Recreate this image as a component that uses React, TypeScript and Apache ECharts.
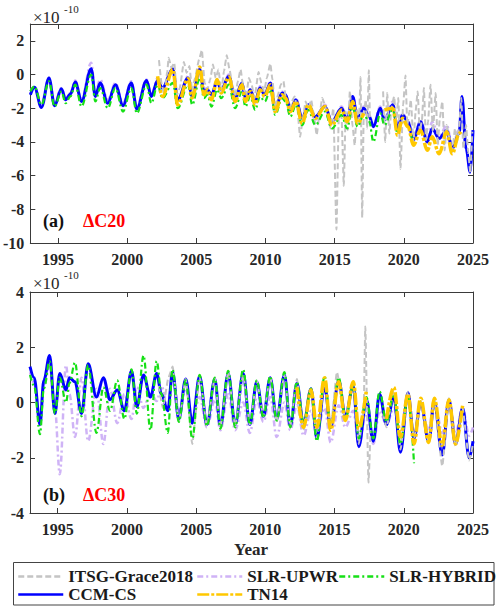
import { useEffect, useRef } from "react";
import * as echarts from "echarts";

const SERIF = "Liberation Serif";

// Axis ticks
const xTicks = [1995, 2000, 2005, 2010, 2015, 2020, 2025];
const yTicksA = [-10, -8, -6, -4, -2, 0, 2];
const yTicksB = [-4, -2, 0, 2, 4];

// ---------- Panel (a): ΔC20, units of 1e-10 ----------
const yearsA = [
  1993.0, 1993.3, 1993.8, 1994.35, 1994.75, 1995.25, 1995.55, 1995.9, 1996.25, 1996.7,
  1997.4, 1997.7, 1998.05, 1998.6, 1999.15, 1999.7, 2000.3, 2000.7, 2001.4, 2001.75,
  2002.2, 2002.55, 2003.3, 2003.65, 2004.4, 2004.7, 2005.25, 2005.55, 2005.8, 2006.1,
  2006.5, 2006.8, 2007.35, 2007.8, 2008.3, 2008.55, 2008.9, 2009.25, 2009.6, 2009.95,
  2010.35, 2010.7, 2011.2, 2011.45, 2011.8, 2012.2, 2012.65, 2013.1, 2013.6, 2014.3,
  2014.8, 2015.5, 2015.9, 2016.3, 2016.65, 2017.1, 2017.5, 2017.8, 2018.3, 2018.6,
  2019.2, 2019.55, 2019.9, 2020.3, 2020.7, 2021.2, 2021.7, 2022.05, 2022.55, 2023.1,
  2023.5, 2024.0, 2024.2, 2024.5, 2024.8, 2025.0,
];
const ccmA = [
  -1.2, -0.75, -1.95, -0.2, -1.85, -0.85, -1.5, -1.15, -0.45, -1.6,
  0.35, -1.3, -0.5, -1.7, -0.6, -1.85, -0.5, -2.05, -0.35, -1.3,
  -0.35, -0.8, 0.35, -1.5, -0.2, -1.3, 0.3, -1.0, -0.9, -1.2,
  -0.4, -0.9, -0.1, -1.4, -0.5, -1.4, -0.9, -1.6, -0.8, -1.2,
  -0.5, -2.0, -1.1, -1.2, -2.1, -1.5, -2.6, -1.8, -2.5, -1.9,
  -2.8, -2.0, -2.7, -1.3, -2.6, -2.0, -2.5, -3.1, -2.0, -2.7,
  -1.8, -3.2, -2.4, -2.8, -3.9, -2.8, -4.0, -3.2, -3.8, -3.3,
  -4.4, -3.5, -1.3, -4.4, -5.8, -3.3,
];
const upwrA = [
  -1.0, -0.7, -1.7, -0.2, -1.7, -0.8, -1.4, -1.1, -0.35, -1.5,
  0.7, -1.1, -0.3, -1.5, -0.5, -1.7, -0.4, -1.9, -0.3, -1.2,
  -0.2, -0.9, 0.2, -1.6, -0.1, -1.3, 0.4, -0.9, -0.8, -1.2,
  -0.3, -1.0, 0.0, -1.7, -0.5, -1.5, -0.9, -1.7, -0.7, -1.1,
  -0.4, -2.2, -1.0, -1.2, -2.0, -1.4, -2.6, -1.7, -2.7, -1.8,
  -2.9, -1.9, -2.7, -1.3, -2.5, -1.9, -2.4, -3.0, -1.9, -2.7,
  -1.6, -3.2, -2.3, -2.7, -3.9, -2.7, -3.8, -2.8, -3.7, -3.0,
  -4.2, -3.3, -1.5, -4.3, -5.5, -3.3,
];
const hybridA = [
  -1.0, -0.7, -1.8, -0.4, -1.9, -1.0, -1.7, -1.3, -0.6, -1.9,
  0.0, -1.6, -0.8, -2.0, -0.8, -2.2, -0.8, -2.3, -0.6, -1.7,
  -0.6, -1.4, -0.5, -2.0, -0.6, -1.8, -0.2, -1.4, -1.2, -1.9,
  -0.9, -1.4, -0.6, -2.0, -1.0, -1.9, -1.3, -2.1, -1.3, -1.6,
  -0.9, -2.4, -1.4, -1.6, -2.5, -1.8, -3.0, -2.1, -3.0, -2.2,
  -3.2, -2.4, -3.2, -1.9, -3.1, -2.4, -2.8, -4.0, -2.3, -3.0,
  -2.1, -3.5, -2.6, -3.1, -4.3, null, null, null, null, null,
  null, null, null, null, null, null,
];
const tn14A = [
  null, null, null, null, null, null, null, null, null, null,
  null, null, null, null, null, null, null, null, null, null,
  -0.1, -1.3, 0.3, -1.8, -0.25, -1.4, 0.45, -1.2, -0.9, -1.5,
  -0.3, -1.1, -0.15, -1.6, -0.6, -1.6, -1.0, -1.8, -0.9, -1.3,
  -0.6, -2.2, -1.2, -1.4, -2.2, -1.6, -2.9, -1.8, -2.6, -1.9,
  -3.0, -2.1, -2.8, -1.6, -2.9, -2.3, null, null, null, -2.1,
  -2.0, -3.6, -2.6, -3.1, -4.2, -3.3, -4.5, -3.7, -4.7, -3.4,
  -4.7, -3.5, -3.3, null, null, null,
];
const itsgA: [number, number | null][] = [
  [2002.3, 0.85], [2002.5, -0.6], [2002.7, -1.2], [2002.9, 0.2], [2003.0, 1.0], [2003.2, 0.4], [2003.4, 0.7], [2003.6, -1.2], [2003.8, -0.8], [2004.1, 0.75],
  [2004.3, 0.1], [2004.5, 0.5], [2004.7, -1.0], [2004.9, -0.2], [2005.2, 0.9], [2005.4, 1.45], [2005.6, -0.5], [2005.8, -0.9], [2006.0, -0.3], [2006.2, 0.6],
  [2006.4, -0.2], [2006.6, 0.3], [2006.8, -1.0], [2007.0, 0.2], [2007.2, 1.15], [2007.4, 0.3], [2007.6, -0.6], [2007.8, -1.3], [2008.0, -0.4], [2008.2, 0.3],
  [2008.4, -0.8], [2008.6, -1.3], [2008.8, -0.2], [2009.0, -0.6], [2009.2, -1.4], [2009.5, 0.15], [2009.7, -0.5], [2009.9, -1.0], [2010.1, -0.2], [2010.35, 0.65],
  [2010.5, -0.3], [2010.7, -2.0], [2010.9, -1.2], [2011.1, -0.6], [2011.3, -0.4], [2011.5, -1.6], [2011.7, -2.3], [2011.9, -1.6], [2012.1, -1.3], [2012.3, -2.0],
  [2012.5, -3.7], [2012.7, -2.6], [2012.9, -1.6], [2013.1, -2.0], [2013.3, -1.5], [2013.5, -2.4], [2013.7, -3.6], [2013.9, -2.4], [2014.1, -1.4], [2014.3, -1.8],
  [2014.5, -2.6], [2014.7, -3.2], [2014.9, -2.0], [2015.13, -9.2], [2015.3, -2.4], [2015.5, -2.5], [2015.66, -6.6], [2015.8, -2.2], [2015.95, -3.3], [2016.1, -1.0],
  [2016.3, -3.1], [2016.45, -4.2], [2016.6, -2.0], [2016.75, -3.0], [2016.87, -0.15], [2016.99, -8.5], [2017.1, -2.4], [2017.25, -1.5], [2017.35, -3.2], [2017.47, 0.25],
  [2017.55, -2.8], [2018.0, null],
  [2018.5, -1.0], [2018.65, -4.0], [2018.8, -1.1], [2018.95, -3.5], [2019.1, -2.0], [2019.3, -1.3], [2019.45, -2.8], [2019.6, -1.4], [2019.76, -5.6], [2019.95, -1.8],
  [2020.12, -0.05], [2020.25, -3.0], [2020.4, -2.2], [2020.5, -1.5], [2020.7, -4.0], [2020.85, -2.2], [2021.0, -1.0], [2021.15, -3.4], [2021.3, -2.8], [2021.45, -0.8],
  [2021.6, -3.9], [2021.75, -2.8], [2021.93, -0.6], [2022.1, -3.4], [2022.3, -1.1], [2022.45, -4.2], [2022.6, -2.6], [2022.78, -1.6], [2022.95, -4.5], [2023.1, -3.0],
  [2023.3, -3.8], [2023.5, -4.6], [2023.7, -3.2], [2023.85, -4.0], [2024.0, -3.1], [2024.15, -1.4], [2024.3, -4.4], [2024.5, -3.0], [2024.65, -4.6], [2024.8, -5.8],
  [2024.95, -3.4],
];

// ---------- Panel (b): ΔC30, units of 1e-10 ----------
const yearsB = [
  1993.0, 1993.3, 1993.72, 1994.0, 1994.42, 1994.8, 1995.15, 1995.6, 1995.85, 1996.25,
  1996.72, 1997.2, 1997.8, 1998.3, 1998.78, 1999.3, 1999.82, 2000.33, 2000.72, 2001.2,
  2001.7, 2002.15, 2002.5, 2002.95, 2003.3, 2003.75, 2004.25, 2004.72, 2005.25, 2005.78,
  2006.35, 2006.75, 2007.32, 2007.82, 2008.4, 2008.88, 2009.38, 2009.86, 2010.35, 2010.82,
  2011.38, 2011.8, 2012.28, 2012.76, 2013.3, 2013.72, 2014.28, 2014.72, 2015.3, 2015.78,
  2016.35, 2016.75, 2017.3, 2017.8, 2018.25, 2018.75, 2019.28, 2019.76, 2020.3, 2020.74,
  2021.22, 2021.8, 2022.2, 2022.78, 2023.26, 2023.74, 2024.25, 2024.72, 2025.0,
];
const ccmB = [
  1.3, 0.9, -0.8, 0.8, 1.7, -0.4, 1.05, 0.45, 0.9, 0.75,
  -0.4, 1.4, 0.2, 0.9, 0.1, 0.45, -0.3, 1.15, -0.15, 1.0,
  0.2, 1.05, 0.3, -0.3, 1.1, -0.6, 0.85, -0.75, 0.95, -0.8,
  0.85, -0.85, 1.05, -0.8, 1.05, -0.8, 0.75, -0.5, 0.9, -0.6,
  1.0, -0.85, 0.7, -0.8, 0.5, -1.3, 0.6, -0.9, 0.8, -0.5,
  0.6, -1.6, 0.1, -1.4, 0.3, -0.8, 0.2, -1.8, 0.35, -1.3,
  0.0, -1.4, 0.0, -1.9, 0.1, -1.5, -0.2, -2.0, -1.4,
];
const upwrB = [
  1.1, 0.7, -0.6, 0.6, 1.3, -0.2, -2.6, 1.35, 0.3, -1.25,
  0.9, -1.4, 0.5, -1.5, 0.5, -0.75, 0.3, -0.6, 0.55, -0.2,
  0.4, 0.05, 0.6, -0.2, 1.0, -0.3, 0.5, -0.7, 0.2, -0.9,
  0.1, -1.0, 0.3, -1.0, 0.0, -1.1, 0.1, -0.7, 0.2, -1.25,
  0.0, -1.0, -0.1, -1.2, -0.3, -1.0, -0.2, -1.45, -0.1, -0.9,
  -0.3, -1.5, -0.4, -1.5, -0.3, -0.8, -0.2, -1.1, 0.2, -1.2,
  -0.1, -1.0, 0.1, -1.1, 0.05, -1.1, -0.2, -1.2, -0.9,
];
const hybridB = [
  1.0, 0.6, -1.15, 0.5, 1.5, -0.4, 0.9, 0.0, 0.7, 1.45,
  -0.5, 1.35, -1.1, 0.55, -0.3, 0.8, -0.6, 1.2, -0.4, 1.7,
  -1.0, 1.5, 0.3, -1.1, 1.2, -0.7, 0.8, -1.3, 1.0, -0.85,
  0.9, -0.95, 1.15, -0.9, 1.2, -0.8, 0.8, -0.55, 0.95, -0.65,
  1.1, -0.9, 0.75, -0.75, 0.5, -1.4, 0.95, -0.9, 0.9, -0.6,
  0.6, -1.3, 0.2, -1.3, 0.4, -0.7, 0.3, -1.5, 0.2, -2.2,
  null, null, null, null, null, null, null, null, null,
];
const tn14B = [
  null, null, null, null, null, null, null, null, null, null,
  null, null, null, null, null, null, null, null, null, null,
  null, null, null, null, null, null, null, null, null, null,
  null, null, null, null, null, null, null, null, null, null,
  null, null, 0.55, -0.9, 0.45, -0.9, 0.9, -1.0, 0.75, -0.65,
  0.75, -0.95, 0.45, null, null, -0.6, 0.55, -1.25, 0.3, -1.5,
  0.15, -1.45, 0.15, -1.55, 0.1, -1.5, -0.1, null, null,
];
const itsgB: [number, number | null][] = [
  [2002.3, 0.6], [2002.6, -0.2], [2003.0, 0.9], [2003.3, 1.3], [2003.75, -0.7], [2004.25, 0.85], [2004.72, -1.5], [2005.25, 0.95], [2005.78, -0.85], [2006.35, 0.9],
  [2006.75, -0.9], [2007.32, 1.1], [2007.82, -0.85], [2008.4, 1.0], [2008.88, -0.8], [2009.38, 0.8], [2009.86, -0.5], [2010.35, 0.95], [2010.82, -0.7], [2011.38, 1.0],
  [2011.8, -0.85], [2012.28, 0.85], [2012.76, -1.0], [2013.3, 0.5], [2013.72, -1.3], [2014.28, 0.75], [2014.72, -0.9], [2015.17, 1.1], [2015.78, -0.6], [2016.35, 0.7],
  [2016.75, -1.5], [2017.1, -0.3], [2017.22, 2.75], [2017.45, -2.9], [2017.6, -1.0], [2018.0, null],
  [2018.5, -0.4], [2018.75, -0.9], [2019.28, 0.4], [2019.76, -1.7], [2020.3, 0.4], [2020.74, -1.3], [2021.22, 0.05], [2021.8, -1.4], [2022.2, 0.1], [2022.78, -2.3],
  [2023.26, 0.15], [2023.74, -1.6], [2024.25, -0.2], [2024.72, -2.1], [2025.0, -1.5],
];

// Line appearance per product
const LINE: Record<string, { color: string; width: number; type: any; smooth: number }> = {
  "ITSG-Grace2018": { color: "#c4c4c4", width: 2, type: [6, 3], smooth: 0.15 },
  "SLR-UPWR": { color: "#cfb3f6", width: 2.5, type: [6, 3, 2, 3], smooth: 0.35 },
  "SLR-HYBRID": { color: "#16e016", width: 2.2, type: [6, 3, 2, 3], smooth: 0.35 },
  "CCM-CS": { color: "#0000ff", width: 3, type: "solid", smooth: 0.35 },
  TN14: { color: "#ffc800", width: 3.5, type: [12, 2, 3, 2], smooth: 0.35 },
};

const toPairs = (years: number[], values: (number | null)[]) =>
  years.map((t, i) => [t, values[i] == null ? "-" : values[i]]);
const fixPairs = (pts: [number, number | null][]) => pts.map(([t, v]) => [t, v == null ? "-" : v]);

function lineSeries(name: string, data: any[], axis: number) {
  const s = LINE[name];
  return {
    type: "line",
    name,
    data,
    xAxisIndex: axis,
    yAxisIndex: axis,
    symbol: "none",
    showSymbol: false,
    smooth: s.smooth,
    smoothMonotone: "x",
    connectNulls: false,
    lineStyle: { color: s.color, width: s.width, type: s.type },
    itemStyle: { color: s.color },
    emphasis: { disabled: true },
  };
}

const axisColor = "#3a3a3a";
// Rich-text style used for tick labels and legend entries
const tickRich = { t: { fontFamily: SERIF, fontWeight: "bold", fontSize: 16, color: "#262626" } };
const legendRich = { t: { fontFamily: SERIF, fontWeight: "bold", fontSize: 17, color: "#1a1a1a" } };

function xAxisDef(grid: number, position: "top" | "bottom", labels: boolean) {
  return {
    type: "value",
    gridIndex: grid,
    position,
    min: 1993,
    max: 2025,
    axisLine: { show: true, onZero: false, lineStyle: { color: axisColor, width: 1 } },
    axisTick: { show: true, inside: true, length: 5, customValues: xTicks, lineStyle: { color: axisColor } },
    axisLabel: {
      show: labels,
      customValues: xTicks,
      margin: 8,
      fontFamily: SERIF,
      fontWeight: "bold",
      fontSize: 16,
      color: "#262626",
      rich: tickRich,
      formatter: (v: number) => `{t|${v}}`,
    },
    splitLine: { show: false },
  };
}

function yAxisDef(grid: number, position: "left" | "right", labels: boolean, min: number, max: number, ticks: number[]) {
  return {
    type: "value",
    gridIndex: grid,
    position,
    min,
    max,
    axisLine: { show: true, onZero: false, lineStyle: { color: axisColor, width: 1 } },
    axisTick: { show: true, inside: true, length: 5, customValues: ticks, lineStyle: { color: axisColor } },
    axisLabel: {
      show: labels,
      customValues: ticks,
      margin: 6,
      fontFamily: SERIF,
      fontWeight: "bold",
      fontSize: 16,
      color: "#262626",
      rich: tickRich,
      formatter: (v: number) => `{t|${v}}`,
    },
    splitLine: { show: false },
  };
}

const legendCommon = {
  orient: "horizontal",
  itemWidth: 45,
  itemHeight: 12,
  padding: 0,
  selectedMode: false,
  itemStyle: { opacity: 0, borderWidth: 0 },
  lineStyle: { width: 2.5 },
  formatter: (name: string) => `{t|${name}}`,
  textStyle: { fontFamily: SERIF, fontWeight: "bold", fontSize: 17, color: "#1a1a1a", rich: legendRich },
};

function textEl(text: string, x: number, y: number, size: number, color: string, weight = "bold") {
  return {
    type: "text",
    x,
    y,
    z: 100,
    style: {
      text,
      fill: color,
      fontFamily: SERIF,
      fontWeight: weight,
      fontSize: size,
      align: "left",
      verticalAlign: "middle",
    },
  };
}

export default function App() {
  const ref = useRef<HTMLDivElement>(null);

  useEffect(() => {
    if (!ref.current) return;
    const chart = echarts.init(ref.current, undefined, { renderer: "svg" });

    const series = [
      lineSeries("SLR-UPWR", toPairs(yearsA, upwrA), 0),
      lineSeries("CCM-CS", toPairs(yearsA, ccmA), 0),
      lineSeries("ITSG-Grace2018", fixPairs(itsgA), 0),
      lineSeries("SLR-HYBRID", toPairs(yearsA, hybridA), 0),
      lineSeries("TN14", toPairs(yearsA, tn14A), 0),
      lineSeries("SLR-UPWR", toPairs(yearsB, upwrB), 2),
      lineSeries("CCM-CS", toPairs(yearsB, ccmB), 2),
      lineSeries("ITSG-Grace2018", fixPairs(itsgB), 2),
      lineSeries("SLR-HYBRID", toPairs(yearsB, hybridB), 2),
      lineSeries("TN14", toPairs(yearsB, tn14B), 2),
    ];

    chart.setOption({
      animation: false,
      backgroundColor: "#ffffff",
      textStyle: { fontFamily: SERIF },
      grid: [
        { left: 30, top: 24, width: 443, height: 219 },
        { left: 30, top: 292, width: 443, height: 221 },
      ],
      xAxis: [
        xAxisDef(0, "bottom", true),
        xAxisDef(0, "top", false),
        xAxisDef(1, "bottom", true),
        xAxisDef(1, "top", false),
      ],
      yAxis: [
        yAxisDef(0, "left", true, -10, 3, yTicksA),
        yAxisDef(0, "right", false, -10, 3, yTicksA),
        yAxisDef(1, "left", true, -4, 4, yTicksB),
        yAxisDef(1, "right", false, -4, 4, yTicksB),
      ],
      legend: [
        { ...legendCommon, data: ["ITSG-Grace2018"], left: 17, top: 568 },
        { ...legendCommon, data: ["SLR-UPWR"], left: 196, top: 568 },
        { ...legendCommon, data: ["SLR-HYBRID"], left: 338, top: 568 },
        { ...legendCommon, data: ["CCM-CS"], left: 17, top: 586 },
        { ...legendCommon, data: ["TN14"], left: 196, top: 586 },
      ],
      graphic: [
        textEl("×10", 33, 17, 17, "#262626", "normal"),
        textEl("-10", 64, 9, 11, "#262626", "normal"),
        textEl("×10", 33, 283, 17, "#262626", "normal"),
        textEl("-10", 64, 275, 11, "#262626", "normal"),
        textEl("(a)", 43, 221, 18, "#111111"),
        textEl("ΔC20", 83, 221, 18, "#ff0000"),
        textEl("(b)", 43, 495, 18, "#111111"),
        textEl("ΔC30", 83, 495, 18, "#ff0000"),
        {
          type: "text",
          x: 251,
          y: 549,
          style: {
            text: "Year",
            fill: "#262626",
            fontFamily: SERIF,
            fontWeight: "bold",
            fontSize: 17,
            align: "center",
            verticalAlign: "middle",
          },
        },
        {
          type: "rect",
          shape: { x: 13.5, y: 562.5, width: 480.5, height: 42.5 },
          style: { fill: "none", stroke: "#444444", lineWidth: 1 },
        },
      ],
      series,
    });

    return () => chart.dispose();
  }, []);

  return (
    <div
      ref={ref}
      style={{ position: "fixed", left: 0, top: 0, width: 500, height: 611, background: "#fff" }}
    />
  );
}
